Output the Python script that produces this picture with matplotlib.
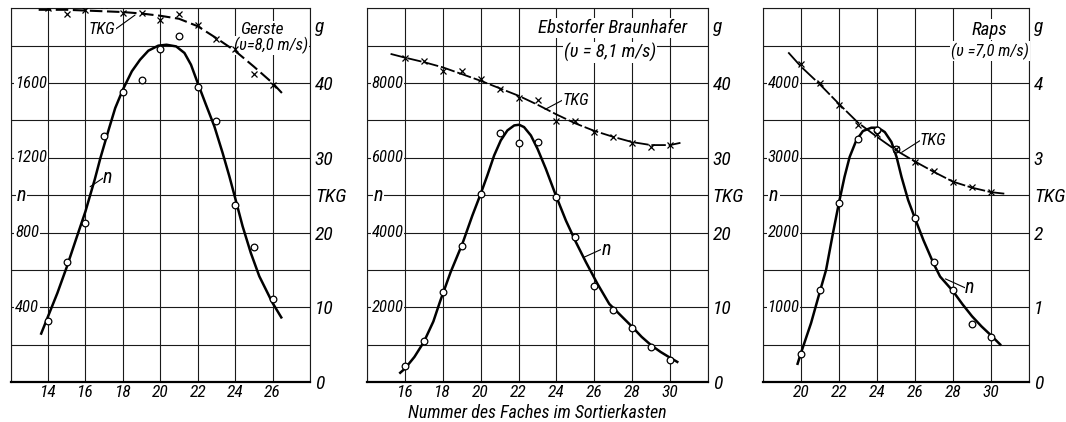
import matplotlib
matplotlib.use('Agg')
import matplotlib.pyplot as plt
from matplotlib import font_manager as fm
from matplotlib.transforms import blended_transform_factory
import numpy as np

# ---- pick a narrow/condensed italic face if one is installed ----
_cond = [f for f in fm.fontManager.ttflist
         if (str(f.stretch) in ('condensed', 'semi-condensed', 'extra-condensed', 'ultra-condensed')
             or 'Narrow' in f.name or 'Condensed' in f.name)
         and f.style in ('italic', 'oblique')]
_pref = ['Liberation Sans Narrow', 'Roboto Condensed', 'Open Sans Condensed', 'Noto Sans',
         'DejaVu Sans', 'Open Sans', 'Roboto']
_chosen = None
for p in _pref:
    for f in _cond:
        if f.name == p:
            _chosen = f
            break
    if _chosen is not None:
        break
if _chosen is None and _cond:
    _chosen = _cond[0]
if _chosen is not None:
    plt.rcParams['font.family'] = [_chosen.name, 'DejaVu Sans']
    plt.rcParams['font.stretch'] = _chosen.stretch
    NARROW = True
else:
    plt.rcParams['font.family'] = ['Liberation Sans', 'DejaVu Sans']
    NARROW = False
plt.rcParams['font.style'] = 'italic'
SC = 1.0 if NARROW else 0.85

# ---------------- Panel 1: Gerste ----------------
g_x = [14, 15, 16, 17, 18, 19, 20, 21, 22, 23, 24, 25, 26]
g_n = [326, 643, 853, 1318, 1553, 1618, 1782, 1850, 1580, 1398, 948, 725, 446]
g_tkg = [50.1, 49.3, 49.8, 50.4, 49.4, 49.4, 48.4, 49.3, 47.8, 45.9, 44.5, 41.2, 39.7]
g_curve_x = [13.61, 14, 14.5, 15, 15.5, 16, 16.5, 16.8, 17.24, 17.59, 18, 18.48, 18.92, 19.36,
             19.89, 20.33, 20.85, 21.29, 21.64, 22, 22.44, 22.89, 23.33, 23.69, 24, 24.4, 24.84,
             25.29, 26, 26.5]
g_curve_n = [253, 351, 476, 615, 765, 913, 1085, 1199, 1350, 1466, 1565, 1663, 1725, 1773,
             1800, 1805, 1796, 1761, 1698, 1600, 1484, 1368, 1226, 1101, 985, 833, 690,
             566, 423, 340]
g_tkg_line_x = [13.5, 15, 17, 18, 19, 20, 21, 22, 23, 24, 25, 26, 26.6]
g_tkg_line = [49.8, 49.8, 49.6, 49.5, 49.3, 49.0, 48.6, 47.6, 46.0, 44.3, 42.2, 40.0, 38.4]

# ---------------- Panel 2: Ebstorfer Braunhafer ----------------
b_x = [16, 17, 18, 19, 20, 21, 22, 23, 24, 25, 26, 27, 28, 29, 30]
b_n = [421, 1101, 2410, 3640, 5030, 6660, 6395, 6430, 4950, 3880, 2565, 1925, 1442, 932, 601]
b_tkg = [43.3, 43.0, 41.6, 41.6, 40.6, 39.2, 38.0, 37.7, 34.9, 34.9, 33.4, 32.8, 32.0, 31.5, 31.7]
b_curve_x = [15.7, 16, 16.5, 17, 17.5, 17.85, 18.41, 19.03, 19.56, 20, 20.35, 20.71, 21.06, 21.41,
             21.77, 22.03, 22.29, 22.65, 23, 23.44, 23.97, 24.5, 25.03, 25.56, 26.17, 26.79,
             27.5, 28, 28.5, 29, 29.5, 30, 30.44]
b_curve_n = [225, 360, 671, 1074, 1620, 2150, 2938, 3696, 4455, 5036, 5527, 6062, 6464, 6732,
             6866, 6884, 6821, 6598, 6241, 5705, 4991, 4321, 3741, 3205, 2625, 2089,
             1729, 1477, 1208, 985, 805, 650, 521]
b_tkg_line_x = [15.24, 16, 17, 18, 19, 20, 21, 22, 23, 24, 25, 26, 27, 28, 29, 30, 30.55]
b_tkg_line = [43.9, 43.4, 42.8, 42.1, 41.2, 40.3, 39.3, 38.3, 37.1, 35.8, 34.6, 33.6, 32.8, 32.1,
              31.7, 31.7, 32.0]

# ---------------- Panel 3: Raps ----------------
r_x = [20, 21, 22, 23, 24, 25, 26, 27, 28, 29, 30]
r_n = [370, 1234, 2400, 3250, 3365, 3120, 2195, 1608, 1225, 780, 601]
r_tkg = [4.25, 4.00, 3.71, 3.44, 3.32, 3.12, 2.95, 2.82, 2.68, 2.61, 2.54]
r_curve_x = [19.8, 20, 20.53, 21.02, 21.32, 21.68, 21.99, 22.29, 22.56, 22.91, 23.26, 23.7,
             24.06, 24.41, 24.76, 25.03, 25.29, 25.64, 26, 26.44, 26.97, 27.32, 28, 28.5, 29,
             29.5, 30, 30.53]
r_curve_n = [228, 389, 789, 1233, 1500, 1989, 2389, 2744, 3011, 3233, 3358, 3402,
             3402, 3344, 3211, 3011, 2744, 2433, 2189, 1900, 1589, 1411, 1215, 1040, 880,
             744, 624, 490]
r_tkg_line_x = [19.33, 20, 21, 22, 23, 24, 25, 26, 27, 28, 29, 30, 30.7]
r_tkg_line = [4.41, 4.22, 3.98, 3.72, 3.47, 3.28, 3.10, 2.95, 2.81, 2.68, 2.60, 2.54, 2.52]

FW, FH = 1066, 422
fig = plt.figure(figsize=(FW / 100, FH / 100), dpi=100)

bottom = 1 - 382 / FH
height = (382 - 8.3) / FH
GRID = '#1a1a1a'


def panel(rect, xlim, xgrid, xlabels, nmax, nstep, nlabels, nlabel_pos,
          tmax, tticks, tlabels, x, n, tkg, cx, cn, tx, tl, dashes, tkg_lw,
          title_lines, tkg_ann, n_ann):
    ax = fig.add_axes(rect)
    ax.set_xlim(*xlim)
    ax.set_ylim(0, nmax)
    ax.set_xticks(xgrid)
    ax.set_xticklabels(xlabels, fontsize=12.5 * SC)
    ax.set_yticks(np.arange(0, nmax + 1, nstep))
    ax.set_yticklabels([])
    ax.tick_params(axis='both', length=0, pad=2.5)
    ax.grid(True, color=GRID, lw=0.8)
    for s in ['left', 'right', 'top']:
        ax.spines[s].set_linewidth(0.8)
        ax.spines[s].set_color(GRID)
    ax.spines['bottom'].set_linewidth(1.6)
    ax.set_axisbelow(True)

    trans = blended_transform_factory(ax.transAxes, ax.transData)
    for v, lab in nlabels:
        ax.annotate(lab, xy=(0, v), xycoords=trans, xytext=(3.2, 0),
                    textcoords='offset points', ha='left', va='center', fontsize=12 * SC,
                    bbox=dict(fc='white', ec='none', pad=0.6), zorder=3)
    ax.annotate('n', xy=(0, nlabel_pos), xycoords=trans, xytext=(4.5, 0),
                textcoords='offset points', ha='left', va='center', fontsize=14.5 * SC,
                bbox=dict(fc='white', ec='none', pad=0.6), zorder=3)

    # n curve and points
    ax.plot(cx, cn, color='black', lw=1.8, zorder=4, solid_capstyle='butt',
            solid_joinstyle='round')
    ax.plot(x, n, ls='none', marker='o', ms=4.8, mfc='white', mec='black', mew=0.9, zorder=5)

    # titles
    for (tx0, ty0, txt, fs) in title_lines:
        ax.text(tx0, ty0, txt, fontsize=fs * SC, ha='center', va='center', zorder=3,
                bbox=dict(fc='white', ec='none', pad=0.8))

    # TKG on twin axis
    ax2 = ax.twinx()
    ax2.set_ylim(0, tmax)
    for s in ax2.spines.values():
        s.set_visible(False)
    ax2.set_yticks(tticks)
    ax2.set_yticklabels(tlabels, fontsize=14 * SC)
    ax2.tick_params(axis='y', length=0, pad=3.5)
    ax2.plot(tx, tl, color='black', lw=tkg_lw, dashes=dashes, zorder=4)
    ax2.plot(x, tkg, ls='none', marker='x', ms=4, mew=0.9, color='black', zorder=5)
    ax2.set_zorder(ax.get_zorder() + 1)
    ax2.patch.set_visible(False)

    # annotations (in n-axis coordinates)
    (a0, a1, atext, aha) = tkg_ann
    ax.annotate('', xy=a0, xytext=a1,
                arrowprops=dict(arrowstyle='-', color='black', lw=0.8,
                                shrinkA=0, shrinkB=0), zorder=6)
    ax.text(a1[0], a1[1], atext, fontsize=12 * SC, ha=aha, va='center', zorder=6,
            bbox=dict(fc='white', ec='none', pad=0.3))
    (b0, b1) = n_ann
    ax.annotate('', xy=b0, xytext=b1,
                arrowprops=dict(arrowstyle='-', color='black', lw=0.8,
                                shrinkA=0, shrinkB=0), zorder=6)
    ax.text(b1[0], b1[1], 'n', fontsize=14.5 * SC, ha='left', va='center', zorder=6,
            bbox=dict(fc='white', ec='none', pad=0.2))
    return ax, ax2


# Panel 1
panel([10.6 / FW, bottom, (310 - 10.6) / FW, height], (12, 28), list(range(12, 29, 2)),
      ['', '14', '16', '18', '20', '22', '24', '26', ''], 2000, 200,
      [(400, '400'), (800, '800'), (1200, '1200'), (1600, '1600')], 1000,
      50, [0, 10, 20, 25, 30, 40, 47.8], ['0', '10', '20', 'TKG', '30', '40', 'g'],
      g_x, g_n, g_tkg, g_curve_x, g_curve_n, g_tkg_line_x, g_tkg_line, (6, 2.2), 1.5,
      [(25.45, 1885, 'Gerste', 12.5), (25.9, 1800, '(υ=8,0 m/s)', 12)],
      ((18.65, 1964), (17.6, 1888), 'TKG', 'right'),
      ((16.25, 1045), (16.95, 1092)))

# Panel 2
panel([367.1 / FW, bottom, (707.9 - 367.1) / FW, height], (14, 32), list(range(14, 33, 2)),
      ['', '16', '18', '20', '22', '24', '26', '28', '30', ''], 10000, 1000,
      [(2000, '2000'), (4000, '4000'), (6000, '6000'), (8000, '8000')], 5000,
      50, [0, 10, 20, 25, 30, 40, 47.8], ['0', '10', '20', 'TKG', '30', '40', 'g'],
      b_x, b_n, b_tkg, b_curve_x, b_curve_n, b_tkg_line_x, b_tkg_line, (8, 1.6), 1.3,
      [(26.99, 9480, 'Ebstorfer Braunhafer', 13.5), (26.83, 8820, '(υ = 8,1 m/s)', 13.5)],
      ((23.4, 7294), (24.3, 7536), 'TKG', 'left'),
      ((25.42, 3330), (26.39, 3554)))

# Panel 3
panel([763 / FW, bottom, (1029 - 763) / FW, height], (18, 32), list(range(18, 33, 2)),
      ['', '20', '22', '24', '26', '28', '30', ''], 5000, 500,
      [(1000, '1000'), (2000, '2000'), (3000, '3000'), (4000, '4000')], 2500,
      5, [0, 1, 2, 2.5, 3, 4, 4.78], ['0', '1', '2', 'TKG', '3', '4', 'g'],
      r_x, r_n, r_tkg, r_curve_x, r_curve_n, r_tkg_line_x, r_tkg_line, (10, 1.4), 1.3,
      [(29.9, 4715, 'Raps', 13.5), (29.95, 4430, '(υ =7,0 m/s)', 12)],
      ((25.3, 3073), (26.26, 3229), 'TKG', 'left'),
      ((27.6, 1380), (28.63, 1261)))

fig.text(537 / FW, 1 - 413 / FH, 'Nummer des Faches im Sortierkasten', ha='center', va='center',
         fontsize=13 * SC)

fig.savefig('out.png', dpi=100)
